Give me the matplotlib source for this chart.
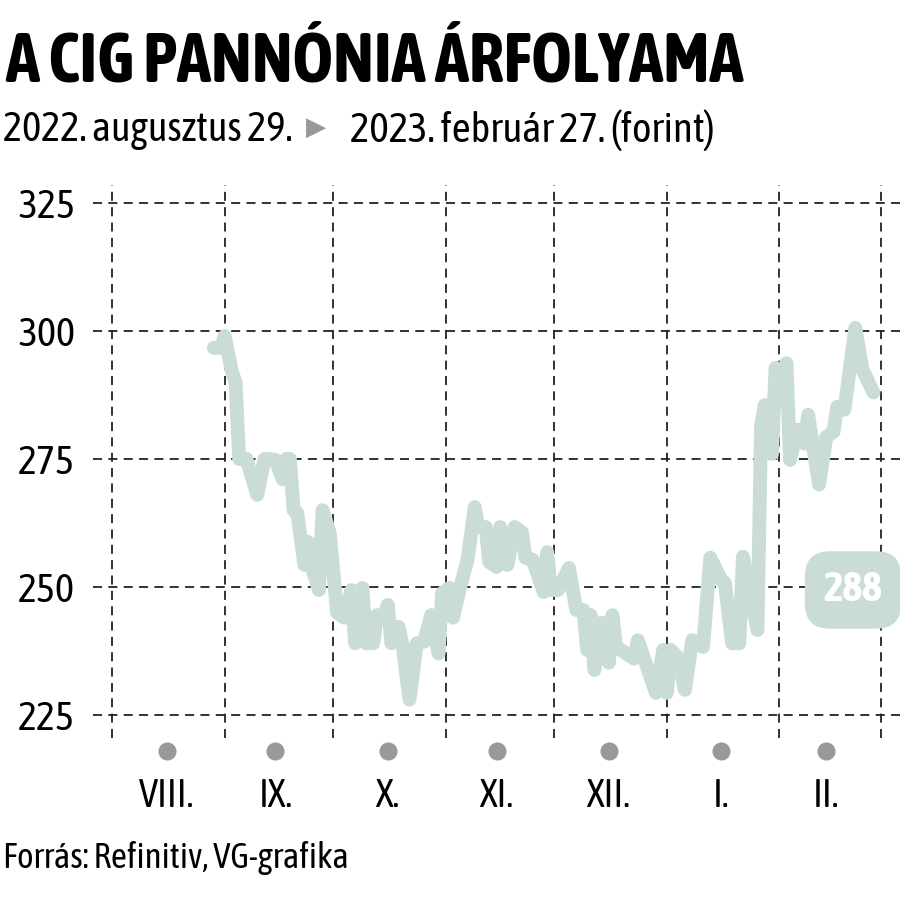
import matplotlib
matplotlib.use("Agg")
import matplotlib.pyplot as plt
import matplotlib.transforms as mtransforms
from matplotlib import font_manager as fm
import pandas as pd

# arfolyam (forint), leolvasva az abrarol
datumok = [
    "2022-08-29", "2022-08-31", "2022-09-01", "2022-09-03", "2022-09-04", "2022-09-05",
    "2022-09-07", "2022-09-10", "2022-09-12", "2022-09-13", "2022-09-15", "2022-09-17",
    "2022-09-18", "2022-09-19", "2022-09-20", "2022-09-21", "2022-09-23", "2022-09-24",
    "2022-09-25", "2022-09-27", "2022-09-28", "2022-09-30", "2022-10-02", "2022-10-04",
    "2022-10-06", "2022-10-07", "2022-10-09", "2022-10-10", "2022-10-12", "2022-10-13",
    "2022-10-15", "2022-10-16", "2022-10-17", "2022-10-19", "2022-10-20", "2022-10-22",
    "2022-10-24", "2022-10-26", "2022-10-28", "2022-10-30", "2022-10-31", "2022-11-02",
    "2022-11-03", "2022-11-05", "2022-11-07", "2022-11-09", "2022-11-10", "2022-11-12",
    "2022-11-13", "2022-11-15", "2022-11-16", "2022-11-18", "2022-11-20", "2022-11-22",
    "2022-11-23", "2022-11-25", "2022-11-28", "2022-11-29", "2022-11-30", "2022-12-02",
    "2022-12-05", "2022-12-07", "2022-12-09", "2022-12-10", "2022-12-11", "2022-12-12",
    "2022-12-14", "2022-12-16", "2022-12-17", "2022-12-18", "2022-12-23", "2022-12-24",
    "2022-12-29", "2022-12-31", "2023-01-01", "2023-01-02", "2023-01-04", "2023-01-06",
    "2023-01-08", "2023-01-11", "2023-01-13", "2023-01-16", "2023-01-17", "2023-01-19",
    "2023-01-21", "2023-01-22", "2023-01-26", "2023-01-27", "2023-01-28", "2023-01-29",
    "2023-01-30", "2023-01-31", "2023-02-02", "2023-02-03", "2023-02-04", "2023-02-06",
    "2023-02-08", "2023-02-09", "2023-02-12", "2023-02-14", "2023-02-16", "2023-02-17",
    "2023-02-19", "2023-02-22", "2023-02-24", "2023-02-27",
]
arak = [
    296.7, 296.7, 299.0, 292.0, 290.0, 275.0,
    275.0, 268.0, 275.0, 275.0, 274.8, 271.0,
    275.0, 275.0, 265.0, 264.5, 254.3, 258.8,
    254.0, 249.4, 265.0, 260.5, 245.0, 244.0,
    249.4, 239.0, 249.8, 239.0, 239.0, 244.5,
    244.0, 246.5, 239.0, 242.2, 239.0, 228.0,
    239.0, 239.3, 244.5, 237.0, 248.8, 249.8,
    244.0, 250.0, 255.3, 265.6, 261.7, 261.7,
    254.9, 253.9, 261.7, 254.3, 261.7, 260.7,
    255.7, 255.3, 249.0, 256.8, 249.4, 249.4,
    253.7, 245.5, 245.5, 237.7, 244.5, 233.8,
    243.0, 235.2, 244.5, 238.3, 236.0, 239.6,
    229.3, 237.7, 229.3, 237.7, 236.3, 229.9,
    239.6, 238.3, 255.7, 251.4, 250.8, 239.0,
    239.0, 255.9, 241.6, 281.3, 285.5, 285.5,
    276.0, 292.8, 287.0, 293.7, 274.8, 280.7,
    278.0, 283.6, 270.0, 279.3, 280.3, 285.2,
    284.6, 300.6, 292.4, 288.0,
]
honap_hatarok = ["2022-08-01", "2022-09-01", "2022-10-01", "2022-11-01",
                 "2022-12-01", "2023-01-01", "2023-02-01", "2023-03-01"]
honap_kozep = ["2022-08-16", "2022-09-15", "2022-10-16", "2022-11-15",
               "2022-12-16", "2023-01-16", "2023-02-14"]
honap_cimkek = ["VIII.", "IX.", "X.", "XI.", "XII.", "I.", "II."]
y_tickek = [225, 250, 275, 300, 325]

# szukitett betu, lehetoleg olyan, aminek van felkover valtozata
sulyok = {}
for f in fm.fontManager.ttflist:
    if "Narrow" in f.name or "Condensed" in f.name:
        w = f.weight if isinstance(f.weight, int) else fm.weight_dict.get(f.weight, 400)
        sulyok.setdefault(f.name, set()).add(w)
szuk = None
for nev, ws in sorted(sulyok.items()):
    if max(ws) >= 600 and any(380 <= w <= 500 for w in ws):
        szuk = nev
        break
if szuk is None and sulyok:
    szuk = sorted(sulyok)[0]
plt.rcParams["font.family"] = [szuk or "DejaVu Sans", "DejaVu Sans"]

vonal_szin = "#c9ddd5"
x = pd.to_datetime(datumok)

fig = plt.figure(figsize=(9, 9), dpi=100)
ax = fig.add_axes([93 / 900, 1 - 738 / 900, 1 - 93 / 900, (738 - 185) / 900])

for h in honap_hatarok:
    ax.axvline(pd.Timestamp(h), color="#222222", lw=1.3, ls=(0, (5, 3.5)), zorder=1)
for t in y_tickek:
    ax.axhline(t, color="#222222", lw=1.3, ls=(0, (5, 3.5)), zorder=1)

ax.plot(x, arak, color=vonal_szin, lw=10, solid_joinstyle="round",
        solid_capstyle="round", zorder=3)

ax.set_xlim(pd.Timestamp("2022-07-26 16:00"), pd.Timestamp("2023-03-06 08:00"))
ax.set_ylim(220.5, 328.5)
ax.set_yticks(y_tickek)
ax.set_yticklabels([str(t) for t in y_tickek], fontsize=29)
ax.tick_params(axis="y", length=0, pad=13)
ax.set_xticks([])
for s in ax.spines.values():
    s.set_visible(False)

# honap pontok es cimkek a tengely alatt
tr = mtransforms.blended_transform_factory(ax.transData, ax.transAxes)
kozep = pd.to_datetime(honap_kozep)
ax.plot(kozep, [-0.024] * len(kozep), "o", color="#999999", ms=12,
        transform=tr, clip_on=False)
for d, c in zip(kozep, honap_cimkek):
    ax.text(d, -0.104, c, transform=tr, ha="center", va="center", fontsize=28)

# utolso ertek cimke
fig.text(853 / 900, 1 - 590 / 900, f"{arak[-1]:.0f}", ha="center", va="center",
         fontsize=30, fontweight="bold", color="white",
         bbox=dict(boxstyle="round,pad=0.45,rounding_size=0.6", fc=vonal_szin, ec="none"))

renderer = fig.canvas.get_renderer()


def szoveg(x0, x1, yc, s, meret, **kw):
    # a referencia szelessegehez igazitott szoveg
    t = fig.text(x0 / 900, 1 - yc / 900, s, fontsize=meret, va="center", ha="left", **kw)
    w = t.get_window_extent(renderer).width
    arany = min(max((x1 - x0) / w, 0.6), 1.3)
    t.set_fontsize(meret * arany)
    return t


szoveg(5, 742, 62, "A CIG PANNÓNIA ÁRFOLYAMA", 40, fontweight="bold")
szoveg(3, 293, 130, "2022. augusztus 29.", 29)
fig.text(306 / 900, 1 - 128 / 900, "▶", fontsize=19, va="center", ha="left",
         color="#999999", family=["DejaVu Sans"])
szoveg(350, 716, 130, "2023. február 27. (forint)", 29)
szoveg(3, 350, 858, "Forrás: Refinitiv, VG-grafika", 26)

fig.savefig("out.png", dpi=100)
